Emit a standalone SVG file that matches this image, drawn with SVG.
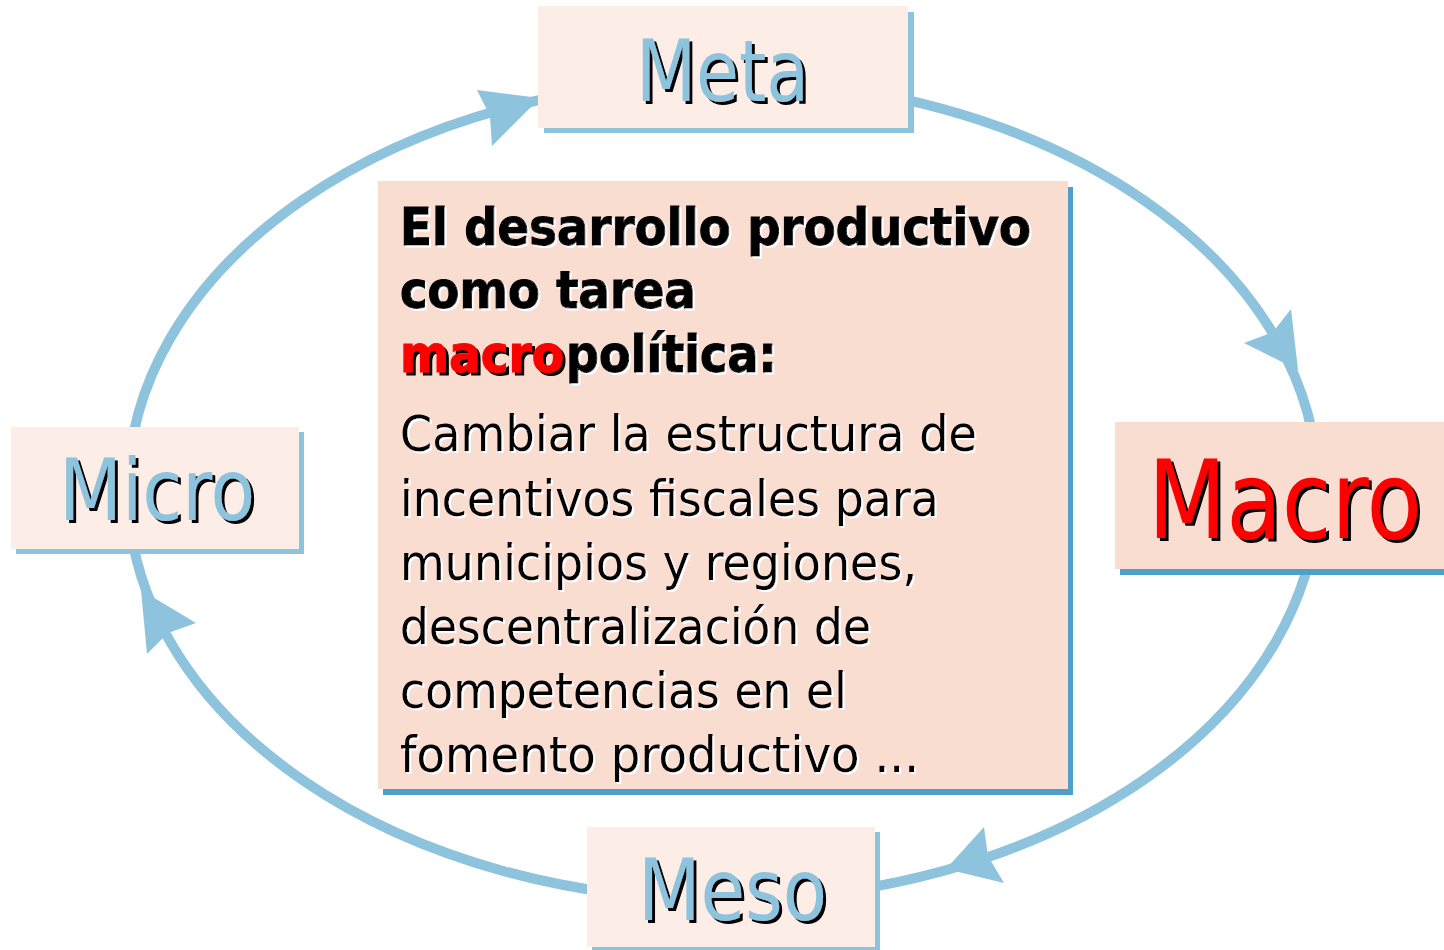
<svg xmlns="http://www.w3.org/2000/svg" width="1444" height="950" viewBox="0 0 1444 950">
  <defs>
    <filter id="shBlack" x="-10%" y="-10%" width="120%" height="130%">
      <feOffset in="SourceAlpha" dx="3" dy="3" result="o"/>
      <feFlood flood-color="#000000"/>
      <feComposite in2="o" operator="in" result="s"/>
      <feMerge><feMergeNode in="s"/><feMergeNode in="SourceGraphic"/></feMerge>
    </filter>
    <filter id="shWhite" x="-5%" y="-10%" width="110%" height="130%">
      <feOffset in="SourceAlpha" dx="2" dy="2" result="o"/>
      <feFlood flood-color="#ffffff"/>
      <feComposite in2="o" operator="in" result="s"/>
      <feMerge><feMergeNode in="s"/><feMergeNode in="SourceGraphic"/></feMerge>
    </filter>
    <style>
      .ring { fill: none; stroke: #8EC3DE; stroke-width: 10; }
      .head { fill: #8EC3DE; stroke: none; }
      .boxL { fill: #FCEDE6; }
      .boxD { fill: #FADDD1; }
      .shL { fill: #8EC3DE; }
      .shD { fill: #4F9FCB; }
      .lbl { font-family: "DejaVu Sans Condensed", "DejaVu Sans", sans-serif; fill: #8EC3DE; filter: url(#shBlack); }
      .lblR { font-family: "DejaVu Sans Condensed", "DejaVu Sans", sans-serif; fill: #FF0000; filter: url(#shBlack); }
      .ttl { font-family: "DejaVu Sans Condensed", "DejaVu Sans", sans-serif; font-weight: bold; font-size: 51px; fill: #000000; stroke: #000000; stroke-width: 1; filter: url(#shWhite); }
      .ttlR { font-family: "DejaVu Sans Condensed", "DejaVu Sans", sans-serif; font-weight: bold; font-size: 51px; fill: #FF0000; stroke: #FF0000; stroke-width: 1; filter: url(#shBlack); }
      .body { font-family: "DejaVu Sans Condensed", "DejaVu Sans", sans-serif; font-size: 50px; fill: #000000; filter: url(#shWhite); }
    </style>
  </defs>
  <rect width="1444" height="950" fill="#ffffff"/>

  <g id="connectors">
    <ellipse class="ring" cx="723" cy="490" rx="595" ry="410"/>
    <polygon class="head" points="540,98 477,90 490,116 492,146"/>
    <polygon class="head" points="1298,370 1291,309 1273,332 1244,343"/>
    <polygon class="head" points="946,869 984,827 988,856 1004,883"/>
    <polygon class="head" points="141,590 196,623 168,633 147,654"/>
  </g>

  <g id="node-meta">
    <rect class="shL" x="544" y="12" width="370" height="121"/>
    <rect class="boxL" x="538" y="6" width="370" height="122"/>
    <text class="lbl" x="636" y="101" font-size="86" textLength="173" lengthAdjust="spacingAndGlyphs">Meta</text>
  </g>

  <g id="node-micro">
    <rect class="shL" x="16" y="432" width="288" height="122"/>
    <rect class="boxL" x="11" y="427" width="288" height="122"/>
    <text class="lbl" x="59" y="520" font-size="85" textLength="196" lengthAdjust="spacingAndGlyphs">Micro</text>
  </g>

  <g id="node-macro">
    <rect class="shD" x="1120" y="428" width="340" height="147"/>
    <rect class="boxD" x="1115" y="422" width="340" height="147"/>
    <text class="lblR" x="1148" y="538" font-size="108" textLength="274" lengthAdjust="spacingAndGlyphs">Macro</text>
  </g>

  <g id="node-meso">
    <rect class="shL" x="592" y="832" width="288" height="125"/>
    <rect class="boxL" x="587" y="827" width="288" height="120"/>
    <text class="lbl" x="638" y="920" font-size="85" textLength="189" lengthAdjust="spacingAndGlyphs">Meso</text>
  </g>

  <g id="node-center">
    <rect class="shD" x="383" y="187" width="690" height="608"/>
    <rect class="boxD" x="378" y="181" width="690" height="608"/>
    <text class="ttl" x="400" y="245" textLength="631" lengthAdjust="spacingAndGlyphs">El desarrollo productivo</text>
    <text class="ttl" x="400" y="308" textLength="296" lengthAdjust="spacingAndGlyphs">como tarea</text>
    <text class="ttlR" x="400" y="372" textLength="164" lengthAdjust="spacingAndGlyphs">macro</text>
    <text class="ttl" x="566" y="372" textLength="211" lengthAdjust="spacingAndGlyphs">política:</text>
    <text class="body" x="400" y="451" textLength="577" lengthAdjust="spacingAndGlyphs">Cambiar la estructura de</text>
    <text class="body" x="400" y="516" textLength="539" lengthAdjust="spacingAndGlyphs">incentivos fiscales para</text>
    <text class="body" x="400" y="580" textLength="517" lengthAdjust="spacingAndGlyphs">municipios y regiones,</text>
    <text class="body" x="400" y="644" textLength="471" lengthAdjust="spacingAndGlyphs">descentralización de</text>
    <text class="body" x="400" y="708" textLength="447" lengthAdjust="spacingAndGlyphs">competencias en el</text>
    <text class="body" x="400" y="772" textLength="519" lengthAdjust="spacingAndGlyphs">fomento productivo ...</text>
  </g>
</svg>
